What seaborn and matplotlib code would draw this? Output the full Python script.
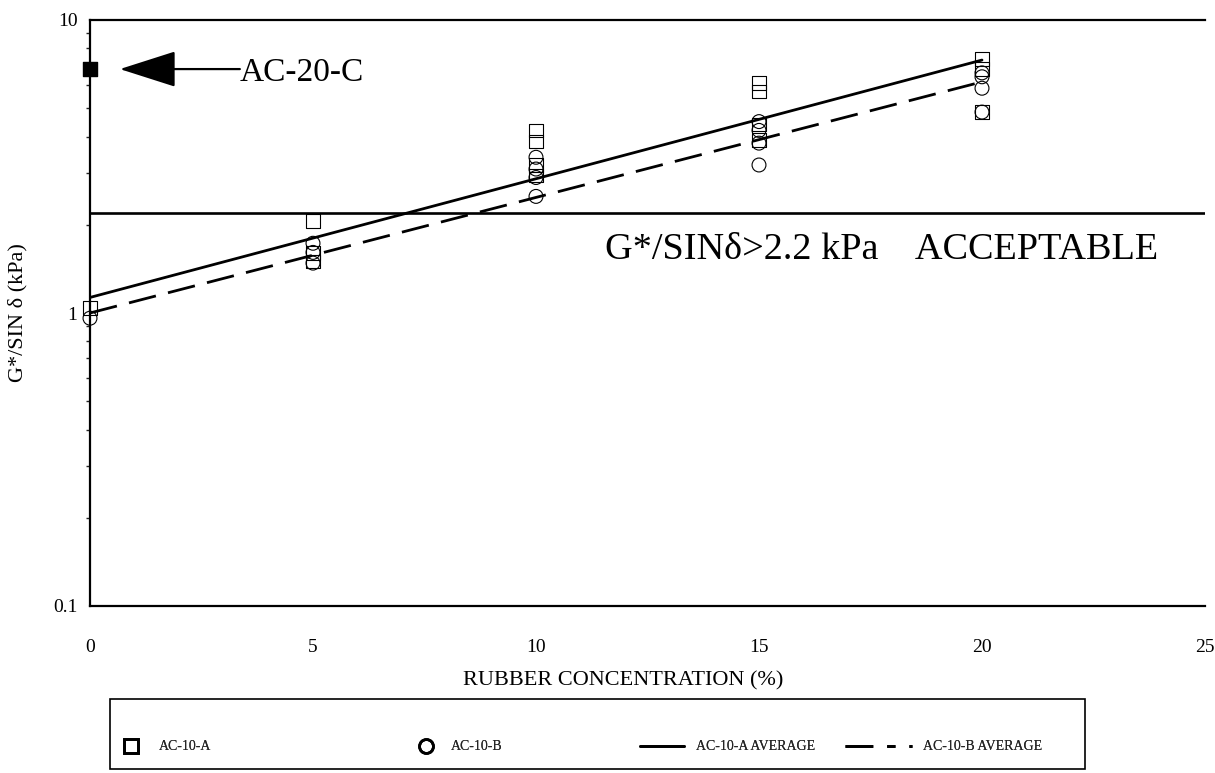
import matplotlib
matplotlib.use("Agg")
import matplotlib.pyplot as plt
from matplotlib.lines import Line2D
from matplotlib.patches import Rectangle
from matplotlib.ticker import FixedLocator, LogLocator, NullFormatter, FuncFormatter
import seaborn as sns
import pandas as pd

# Measured G*/sin(delta) values (kPa) by crumb-rubber concentration (%)
conc_a = [0, 5, 5, 5, 10, 10, 10, 10, 15, 15, 15, 15, 20, 20, 20]
gsin_a = [1.04, 2.06, 1.60, 1.50, 4.20, 3.85, 3.20, 2.95, 6.10, 5.70, 4.40, 3.90, 7.35, 6.80, 4.85]

conc_b = [0, 5, 5, 5, 10, 10, 10, 10, 15, 15, 15, 15, 20, 20, 20, 20]
gsin_b = [0.96, 1.73, 1.61, 1.48, 3.40, 3.10, 2.90, 2.50, 4.50, 4.20, 3.80, 3.20, 6.60, 6.40, 5.85, 4.85]

# Fitted average trends (end points of the log-linear fits)
avg_conc = [0, 20]
avg_a = [1.13, 7.30]
avg_b = [1.00, 6.15]

# Reference binder and specification limit
ref_label = "AC-20-C"
ref_conc = 0
ref_value = 6.8
spec_limit = 2.2

x_ticks = [0, 5, 10, 15, 20, 25]
y_ticks = [0.1, 1, 10]

sns.set_theme(style="white")
plt.rcParams["font.family"] = ["Liberation Serif", "DejaVu Serif"]

df_a = pd.DataFrame({"conc": conc_a, "g": gsin_a})
df_b = pd.DataFrame({"conc": conc_b, "g": gsin_b})
df_avg = pd.DataFrame({"conc": avg_conc, "a": avg_a, "b": avg_b})

fig = plt.figure(figsize=(12.15, 7.73), dpi=100)
ax = fig.add_axes([90 / 1215, 1 - 606 / 773, (1205 - 90) / 1215, (606 - 20) / 773])

sns.lineplot(data=df_avg, x="conc", y="a", ax=ax, color="black", lw=2.0, zorder=3)
sns.lineplot(data=df_avg, x="conc", y="b", ax=ax, color="black", lw=2.0,
             dashes=False, zorder=3).lines[-1].set_dashes((10, 4.5))

sns.scatterplot(data=df_a, x="conc", y="g", ax=ax, marker="s", s=95,
                facecolor="none", edgecolor="black", linewidth=0.8, zorder=4, clip_on=False)
sns.scatterplot(data=df_b, x="conc", y="g", ax=ax, marker="o", s=100,
                facecolor="none", edgecolor="black", linewidth=0.8, zorder=4, clip_on=False)

ax.scatter([ref_conc], [ref_value], marker="s", s=95, color="black", zorder=5, clip_on=False)
ax.axhline(spec_limit, color="black", lw=1.9, zorder=2)

ax.set_yscale("log")
ax.set_xlim(0, 25)
ax.set_ylim(0.1, 10)
ax.xaxis.set_major_locator(FixedLocator(x_ticks))
ax.yaxis.set_major_locator(FixedLocator(y_ticks))
ax.yaxis.set_minor_locator(LogLocator(base=10, subs=range(2, 10)))
ax.yaxis.set_minor_formatter(NullFormatter())
ax.yaxis.set_major_formatter(FuncFormatter(lambda v, _: f"{v:g}"))

for side in ("left", "top", "bottom"):
    ax.spines[side].set_visible(True)
    ax.spines[side].set_color("black")
    ax.spines[side].set_linewidth(1.6)
ax.spines["right"].set_visible(False)

ax.tick_params(axis="x", which="major", direction="out", length=0, pad=24, labelsize=14, colors="black")
ax.tick_params(axis="y", which="major", direction="out", length=3, width=1.2, pad=6, labelsize=14, colors="black")
ax.tick_params(axis="y", which="minor", direction="out", length=3, width=1.0, left=True)

ax.set_xlabel("RUBBER CONCENTRATION (%)", fontsize=16, color="black")
ax.xaxis.set_label_coords(0.478, -0.112)
ax.set_ylabel("G*/SIN δ (kPa)", fontsize=16, color="black")
ax.yaxis.set_label_coords(-0.056, 0.5)

ax.text(11.55, 1.64, "G*/SINδ>2.2 kPa    ACCEPTABLE", fontsize=27.5,
        ha="left", va="center", color="black")

ax.annotate("", xy=(0.67, ref_value), xytext=(3.36, ref_value),
            arrowprops=dict(arrowstyle="-|>,head_length=3.6,head_width=1.15",
                            color="black", lw=1.6, shrinkA=0, shrinkB=0,
                            mutation_scale=10))
ax.text(3.36, 6.62, ref_label, fontsize=24, ha="left", va="center", color="black")

# Legend strip below the axes
fig.patches.append(Rectangle((110 / 1215, 4 / 773), (1085 - 110) / 1215, (769 - 699) / 773,
                             transform=fig.transFigure, fill=False, edgecolor="black", lw=1.2))

leg_y = 1 - 747 / 773
entries = [
    (Line2D([], [], ls="none", marker="s", ms=10, mfc="none", mec="black", mew=2.0), "AC-10-A", 121, 1.5, 1.2),
    (Line2D([], [], ls="none", marker="o", ms=10, mfc="none", mec="black", mew=2.0), "AC-10-B", 416, 1.5, 1.0),
    (Line2D([], [], color="black", lw=2.0), "AC-10-A AVERAGE", 640, 3.2, 0.8),
    (Line2D([], [], color="black", lw=2.0, dashes=(10, 5, 3, 5)), "AC-10-B AVERAGE", 845, 4.8, 0.8),
]
for handle, label, x_px, hlen, tpad in entries:
    leg = fig.legend([handle], [label], loc="center left", bbox_to_anchor=(x_px / 1215, leg_y),
                     frameon=False, fontsize=10, handlelength=hlen, handletextpad=tpad,
                     borderpad=0, borderaxespad=0)
    fig.add_artist(leg)

fig.savefig("out.png", dpi=100)
